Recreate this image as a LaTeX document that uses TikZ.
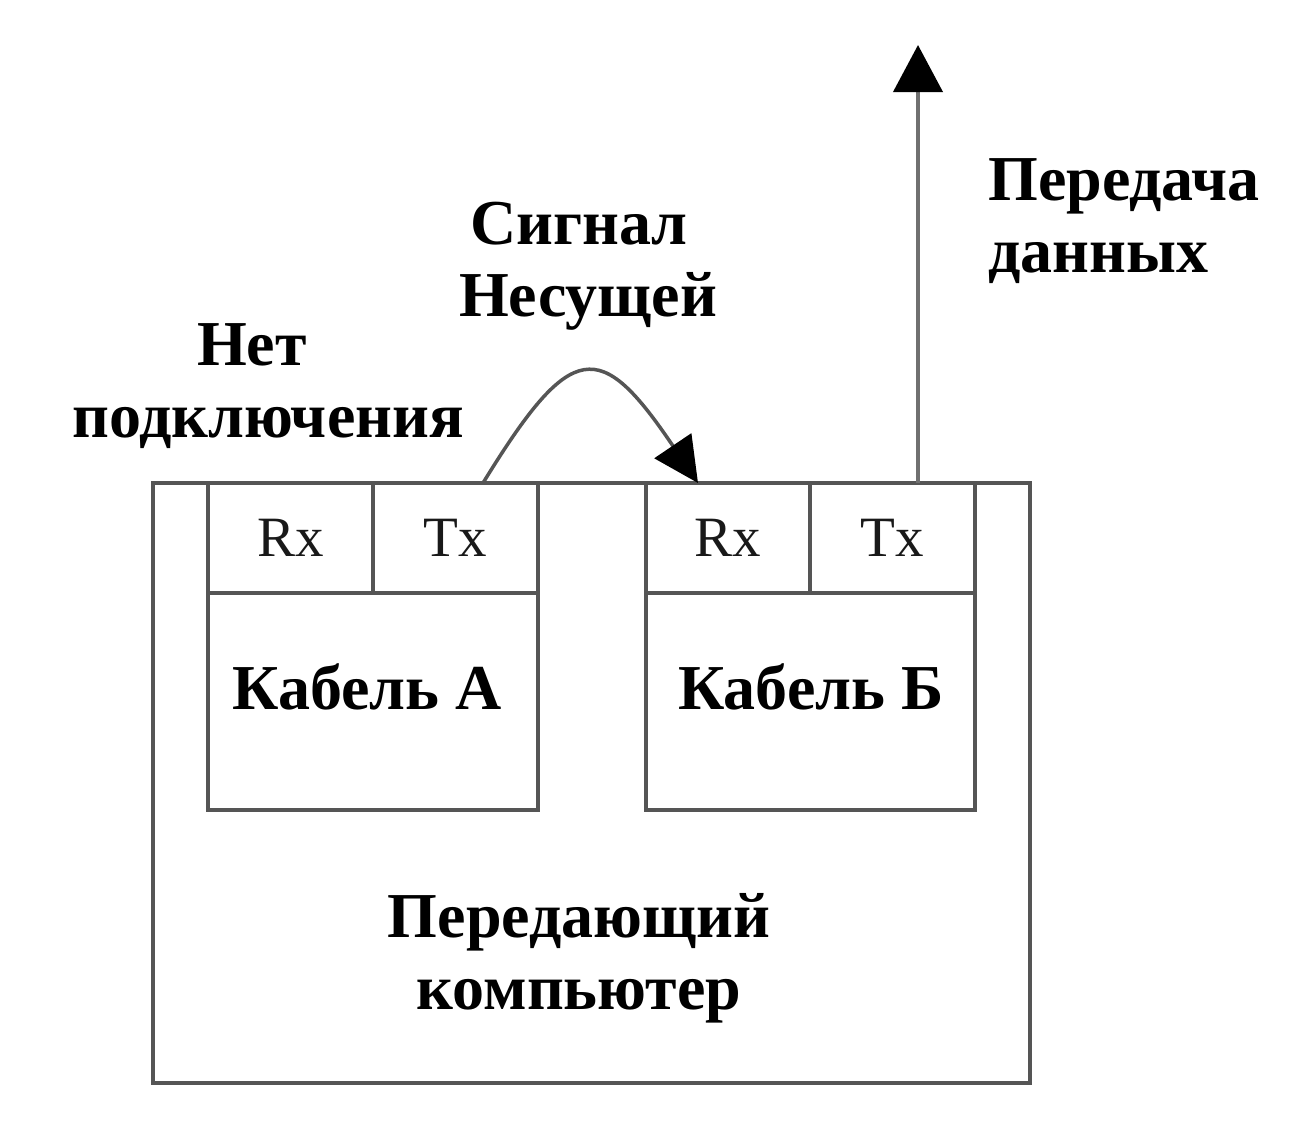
\documentclass[tikz,border=0pt]{standalone}
\usepackage{fontspec}
\setmainfont{Liberation Serif}
\usetikzlibrary{arrows.meta}
\definecolor{linegray}{HTML}{555555}
\definecolor{arrowgray}{HTML}{707070}
\begin{document}
\begin{tikzpicture}[x=1pt,y=-1pt,
  box/.style={draw=linegray, line width=4pt, inner sep=0pt, outer sep=0pt, anchor=north west},
  cell/.style={box, minimum height=110pt, font=\fontsize{57}{60}\selectfont, text=black!90},
  lbl/.style={font=\bfseries\fontsize{64}{72}\selectfont, inner sep=0pt, align=center},
  conn/.style={draw=linegray, line width=3.5pt},
  upconn/.style={draw=arrowgray, line width=4pt}]
\useasboundingbox[fill=white] (0,0) rectangle (1294,1138);
% computer
\node[box, minimum width=877pt, minimum height=600pt] (pc) at (153,483) {};
% cable A
\node[box, minimum width=330pt, minimum height=327pt] (cabA) at (208,483) {};
\node[cell, minimum width=165pt] (rxA) at (208,483) {Rx};
\node[cell, minimum width=165pt] (txA) at (373,483) {Tx};
% cable B
\node[box, minimum width=329pt, minimum height=327pt] (cabB) at (646,483) {};
\node[cell, minimum width=164pt] (rxB) at (646,483) {Rx};
\node[cell, minimum width=165pt] (txB) at (810,483) {Tx};
% labels
\node[lbl] (cabAlbl) at (367,687) {Кабель А};
\node[lbl] (cabBlbl) at (811,687) {Кабель Б};
\node[lbl] (pclbl) at (579,958) {Передающий\\компьютер};
\node[lbl] (nolink) at (268,386) {Нет\hspace*{32pt}\\подключения};
\node[lbl] (carrier) at (588,266) {Сигнал\hspace*{18pt}\\Несущей};
\node[lbl, anchor=west, align=left] (data) at (988,221) {Передача\\данных};
% connectors
\coordinate (uptip) at (918,45);
\draw[conn, -{Triangle[length=45pt,width=44pt,color=black]}]
  ([xshift=27.5pt]txA.north) .. controls (572,338) and (600,338) .. ([xshift=-30pt]rxB.north);
\draw[upconn, -{Triangle[length=47pt,width=49pt,color=black]}]
  ([xshift=25.5pt]txB.north) -- (uptip);
\end{tikzpicture}
\end{document}
